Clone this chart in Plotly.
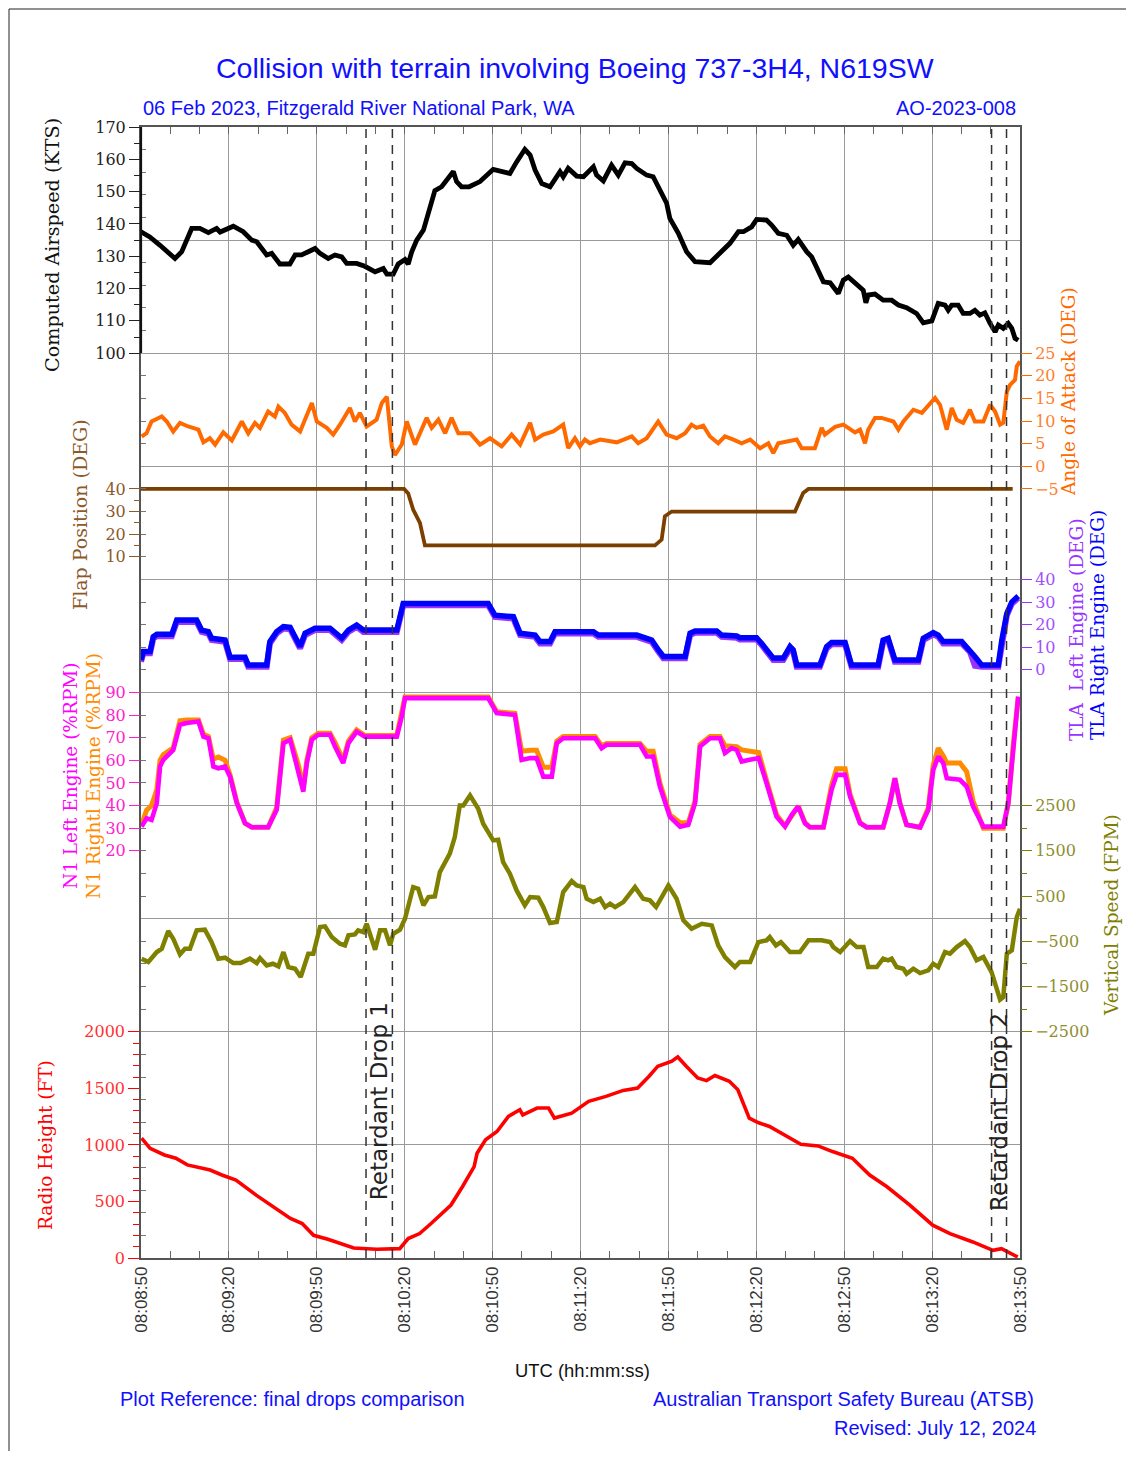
import plotly.graph_objects as go

# ---------------- DATA (seconds after 08:08:50) ----------------
tick_labels = ["08:08:50", "08:09:20", "08:09:50", "08:10:20", "08:10:50", "08:11:20",
               "08:11:50", "08:12:20", "08:12:50", "08:13:20", "08:13:50"]
tick_secs = [0, 30, 60, 90, 120, 150, 180, 210, 240, 270, 300]

t_as = [0, 3, 6.5, 11.6, 13.9, 17.3, 20.1, 23, 25.8, 27, 31.5, 34.9, 37.8, 39.5, 42.9, 44.6, 47.4, 49.7,
        50.8, 52.6, 54.8, 57.1, 59.4, 61.1, 63.9, 66.2, 68.5, 70.2, 73.6, 76.4, 79.9, 82.7, 83.9, 86.1,
        87.8, 90.1, 91.2, 92.4, 94.1, 96.4, 98.6, 100.3, 102.6, 104.3, 106.6, 107.7, 109.4, 112, 115.7,
        120.2, 125.9, 128.2, 131, 132.8, 134.5, 136.8, 139.6, 143, 144.1, 145.8, 148.7, 151, 154.4, 155.5,
        157.8, 160.6, 162.9, 165.2, 167.5, 169.2, 172.6, 174.8, 177.1, 179.4, 180.5, 183.4, 186.2, 189.1,
        194.2, 197.6, 201, 203.9, 205.6, 208.4, 210.1, 213.5, 215.3, 217.5, 220.4, 222.6, 224.3, 227.2,
        228.9, 232.9, 235.2, 238, 239.7, 241.4, 244.3, 246.5, 247.4, 248.2, 250.5, 253.3, 256.2, 258.5,
        261.3, 264.7, 267, 269.9, 272.1, 274.4, 275.5, 276.7, 278.9, 280.6, 282.9, 284.6, 286.3, 288,
        289.8, 291.5, 292.6, 294.3, 296, 297.2, 298.3, 299.4]
v_as = [137.6, 136.0, 133.4, 129.3, 131.4, 138.6, 138.6, 137.3, 138.6, 137.5, 139.3, 137.6, 135.0, 134.5,
        130.4, 130.9, 127.6, 127.7, 127.6, 130.4, 130.4, 131.4, 132.4, 130.9, 129.3, 130.4, 129.8, 127.8,
        127.8, 126.9, 125.2, 126.2, 124.5, 124.5, 127.6, 129.0, 127.6, 131.4, 135.0, 138.1, 144.8, 150.3,
        151.5, 153.6, 156.2, 153.1, 151.5, 151.5, 153.1, 156.9, 155.6, 159.2, 163.1, 161.3, 156.7, 152.5,
        151.5, 156.2, 154.6, 157.2, 154.8, 154.6, 157.7, 155.1, 153.3, 158.2, 155.1, 158.9, 158.7, 157.2,
        155.1, 154.6, 150.5, 146.4, 141.7, 137.1, 131.4, 128.3, 128.0, 130.9, 134.0, 137.6, 137.6, 139.1,
        141.4, 141.2, 139.6, 137.1, 136.5, 133.4, 135.2, 131.4, 129.8, 122.1, 121.8, 118.5, 122.6, 123.6,
        121.1, 119.5, 115.6, 118.0, 118.3, 116.4, 116.4, 114.9, 114.1, 112.3, 109.4, 110.0, 115.4, 114.9,
        113.3, 114.9, 114.9, 112.3, 112.3, 113.3, 111.8, 112.5, 109.2, 106.6, 108.7, 107.7, 109.2, 107.7,
        104.6, 104.0]

t_aoa = [0.2, 1.9, 3.6, 7.1, 8.8, 11, 13.3, 16.1, 19.6, 21.3, 23.5, 25.3, 28.1, 31, 34.4, 36.6, 38.9, 40.6,
         43.4, 45.7, 46.9, 49.1, 51.4, 54.3, 58.3, 60, 63.4, 65.6, 67.9, 71.3, 73, 74.7, 77, 80.4, 82.2, 83.9,
         85.6, 86.7, 89, 90.7, 93.5, 95.2, 97.5, 99.2, 101.5, 103.8, 106, 108.3, 112.3, 115.7, 119.1, 123.1,
         126.5, 129.4, 132.8, 134.5, 137.3, 140.7, 144.1, 145.8, 148.1, 149.8, 151.5, 153.2, 156.7, 162.4,
         167.5, 169.7, 172.6, 176.5, 179.4, 182.8, 185.7, 187.9, 189.6, 191.9, 194.2, 197, 199.3, 202.2, 205,
         207.9, 211.3, 214.1, 215.8, 217.5, 220.4, 223.8, 225.5, 230, 232.3, 233.4, 236.9, 239.7, 243.7,
         245.4, 247.1, 248.2, 250.5, 252.8, 256.8, 258.5, 260.2, 263.6, 266.5, 271, 272.7, 275, 276.7, 278.4,
         280.6, 282.9, 284.6, 287.5, 289.8, 291.5, 293.2, 294.3, 295.5, 296.6, 298.3, 298.9, 300]
v_aoa = [6.6, 7.3, 9.9, 11.0, 9.9, 7.7, 9.6, 8.8, 8.1, 5.3, 6.2, 4.8, 7.5, 5.7, 9.9, 7.3, 9.6, 8.5, 12.1, 11.0,
         13.2, 11.8, 9.2, 7.7, 14.0, 9.9, 8.5, 7.0, 9.2, 12.9, 9.9, 11.8, 8.8, 10.3, 14.0, 15.4, 4.4, 2.5, 4.8,
         9.9, 4.8, 7.3, 10.7, 8.5, 10.3, 7.3, 10.7, 7.3, 7.3, 4.8, 6.2, 4.4, 7.0, 4.8, 9.6, 5.9, 7.0, 7.7, 9.2,
         4.0, 6.2, 4.4, 5.9, 5.1, 5.9, 5.3, 6.6, 5.1, 6.2, 9.9, 7.0, 6.2, 7.3, 9.2, 8.5, 9.0, 6.6, 5.1, 6.6,
         5.9, 5.1, 5.9, 4.0, 5.1, 2.9, 5.1, 5.5, 5.9, 4.0, 4.0, 8.5, 7.0, 8.7, 9.2, 7.5, 8.1, 5.1, 8.1, 10.7,
         10.7, 9.9, 8.1, 9.9, 12.5, 11.8, 15.1, 13.6, 8.1, 12.9, 10.3, 9.6, 12.5, 9.9, 9.9, 13.6, 12.1, 9.2,
         9.6, 16.5, 18.0, 19.1, 22.1, 23.2]

t_flap = [0, 89.8, 91.2, 92.9, 95.2, 96.9, 175.4, 177.7, 178.8, 181.1, 223.2, 226.0, 227.8, 297.5]
v_flap = [40, 40, 38, 30.8, 25, 15, 15, 17.6, 27.9, 30, 30, 38.2, 40, 40]

t_tla = [0, 0.8, 3.1, 4.2, 5.4, 10.5, 12.2, 19, 20.7, 23, 24.1, 28.7, 30.4, 35.5, 36.6, 42.9, 44, 46.3,
         48.6, 50.9, 54.3, 56, 59.4, 64.5, 68.5, 70.8, 73.6, 75.9, 87.3, 89, 89.5, 118.5, 120.8, 127.1,
         129.4, 134.5, 136.2, 139.6, 141.3, 154.4, 156.1, 169.2, 170.9, 174.3, 176.6, 178.3, 185.7, 187.4,
         189.1, 196.5, 198.2, 203.3, 204.4, 210.1, 211.8, 215.8, 219.2, 221.5, 222.6, 223.8, 231.7, 234,
         235.7, 240.3, 242.5, 251.6, 253.3, 255, 257.3, 265.3, 267, 270.4, 272.1, 273.8, 280.1, 282.9,
         284.6, 286.9, 292.6, 293.8, 295.5, 297.2, 299.4]
v_tla_right = [4.4, 8.1, 8.1, 14.7, 15.7, 15.7, 22.0, 22.0, 17.6, 16.9, 14.0, 13.2, 5.6, 5.6, 2.2, 2.2, 12.5,
               16.9, 19.1, 18.8, 10.3, 16.2, 18.4, 18.4, 14.0, 17.6, 19.8, 17.6, 17.6, 27.9, 29.4, 29.4,
               24.2, 23.5, 16.2, 15.4, 12.5, 12.5, 16.9, 16.9, 15.4, 15.4, 14.7, 13.2, 8.8, 5.9, 5.9, 16.2,
               17.2, 17.2, 15.4, 15.0, 14.2, 14.2, 11.8, 5.2, 5.2, 10.3, 8.8, 2.2, 2.2, 10.3, 12.1, 12.1,
               2.2, 2.2, 13.2, 14.0, 4.4, 4.4, 14.0, 16.5, 15.4, 12.5, 12.5, 8.8, 5.9, 2.2, 2.2, 13.2, 24.9,
               30.0, 32.6]
v_tla_left = [3.6, 7.3, 7.3, 13.9, 14.9, 14.9, 21.2, 21.2, 16.8, 16.1, 13.2, 12.4, 4.8, 4.8, 1.4, 1.4, 11.7,
              16.1, 18.3, 18.0, 9.5, 15.4, 17.6, 17.6, 13.2, 16.8, 19.0, 16.8, 16.8, 27.1, 28.6, 28.6,
              23.4, 22.7, 15.4, 14.6, 11.7, 11.7, 16.1, 16.1, 14.6, 14.6, 13.9, 12.4, 8.0, 5.1, 5.1, 15.4,
              16.4, 16.4, 14.6, 14.2, 13.4, 13.4, 11.0, 4.4, 4.4, 9.5, 8.0, 1.4, 1.4, 9.5, 11.3, 11.3,
              1.4, 1.4, 12.4, 13.2, 3.6, 3.6, 13.2, 15.7, 14.6, 11.7, 11.7, 8.0, 1.8, 1.4, 1.4, 12.4, 24.1,
              29.2, 31.8]

t_n1 = [0.2, 1.9, 3.6, 5.4, 6.5, 7.6, 11, 13.3, 15.6, 19.6, 21.3, 23, 24.7, 26.4, 28.7, 30.4, 32.7, 35.5,
        37.8, 43.4, 46.3, 48.6, 50.9, 53.7, 55.4, 56.6, 58.3, 60.5, 64.5, 66.2, 69, 70.8, 73.6, 76.4, 87.3,
        89, 90.1, 118.5, 121.4, 127.6, 129.9, 132.8, 135, 137.3, 140.2, 141.9, 144.1, 155, 157.2, 158.9,
        170.3, 172.6, 174.8, 177.1, 180.5, 184, 186.8, 189.1, 190.8, 194.2, 197.6, 199.3, 201.6, 203.3,
        205, 207.3, 210.8, 213.5, 216.9, 219.8, 222.1, 224.3, 226.6, 228.3, 232.9, 235.7, 237.4, 240.3,
        242, 245.4, 247.7, 253.3, 255.6, 257.3, 259, 261.3, 265.9, 268.7, 270.4, 272.1, 273.8, 275, 279.5,
        281.8, 284, 287.5, 294.3, 296, 297.7, 299.4]
v_n1_left = [30.7, 34.4, 33.7, 41.1, 57.3, 60.2, 64.6, 75.7, 76.5, 77.2, 70.5, 69.8, 57.3, 56.5, 57.3, 52.8,
             41.1, 32.2, 30.4, 30.4, 38.1, 67.6, 69.1, 55.8, 46.2, 58.8, 69.1, 71.3, 71.3, 66.1, 58.8, 67.6,
             72.7, 70.5, 70.5, 79.4, 87.5, 87.5, 80.9, 80.1, 60.2, 61.0, 61.0, 52.8, 52.8, 67.6, 69.8, 69.8,
             65.4, 66.9, 66.9, 61.7, 61.7, 48.4, 35.1, 30.7, 31.5, 41.1, 66.1, 69.8, 69.8, 63.2, 65.4, 64.6,
             59.5, 60.2, 61.0, 49.9, 35.1, 30.7, 35.9, 39.6, 32.2, 30.4, 30.4, 47.0, 53.6, 53.6, 44.0, 32.2,
             30.4, 30.4, 41.1, 52.1, 41.1, 31.5, 30.4, 38.1, 55.8, 61.7, 58.8, 52.1, 51.4, 48.4, 39.6, 30.7,
             30.7, 41.1, 67.6, 88.2]
v_n1_right = [31.5, 38.0, 40.0, 47.0, 60.0, 62.5, 65.5, 77.5, 77.8, 77.8, 71.5, 70.5, 60.5, 61.5, 60.0, 53.5,
              41.5, 32.2, 30.4, 30.4, 39.0, 69.0, 70.0, 58.0, 48.0, 60.0, 70.0, 72.0, 72.0, 68.0, 60.0, 68.5,
              73.5, 71.0, 71.0, 80.0, 88.0, 88.0, 81.5, 80.8, 64.0, 64.5, 64.5, 57.0, 57.0, 68.5, 70.5, 70.5,
              66.5, 67.5, 67.5, 64.0, 64.0, 50.0, 36.0, 32.4, 32.4, 42.0, 67.0, 70.5, 70.5, 66.5, 66.5, 66.0,
              64.6, 64.0, 63.5, 51.0, 36.0, 31.0, 36.0, 39.8, 32.5, 30.4, 30.4, 49.0, 56.3, 56.3, 45.0, 32.5,
              30.4, 30.4, 41.1, 52.1, 41.1, 31.5, 30.4, 39.0, 58.0, 65.4, 62.0, 58.8, 58.8, 55.0, 42.0, 30.0,
              30.0, 41.0, 67.0, 88.0]

t_vs = [0.2, 2.5, 5.4, 7.1, 9.3, 11, 13.3, 15, 16.7, 19, 21.8, 24.1, 26.4, 28.7, 31.5, 34, 37.2, 39.5, 40.6,
        42.9, 45, 46.9, 48.6, 50.3, 52.6, 54.5, 57.1, 58.8, 61.1, 62.8, 65.1, 67.9, 69.6, 70.8, 73, 74.1,
        75.9, 77, 79.9, 81.6, 83.3, 85, 86.1, 88.4, 90.1, 92.9, 94.6, 96.4, 98.1, 100.3, 102, 105.4, 107.1,
        108.8, 110, 112.3, 115.1, 116.8, 120.2, 121.9, 123.6, 125.9, 128.2, 131, 132.8, 135.6, 137.3, 139.6,
        141.9, 144.1, 147, 148.7, 151, 152.1, 154.4, 156.7, 158.4, 160.1, 161.8, 164.6, 168.6, 171.4, 173.7,
        175.8, 180, 182.8, 185.1, 187.9, 191.4, 194.8, 197, 199.3, 202.7, 204.4, 207.9, 210.7, 213.5, 214.6,
        216.7, 218.4, 221.5, 224.9, 227.8, 232.3, 235.2, 236.3, 238.6, 242, 244.3, 246.6, 248.2, 251.1,
        253.3, 255, 256.2, 257.9, 260.2, 261.3, 263.6, 265.9, 268.7, 270.4, 272.1, 274.4, 276.1, 278.4,
        281.2, 282.9, 285.2, 287.5, 290.3, 292, 293.2, 294.3, 295.5, 297.2, 298.9, 300]
v_vs = [-885, -958, -737, -663, -274, -442, -789, -663, -663, -258, -243, -517, -884, -862, -981, -981, -884,
        -981, -870, -1032, -995, -1054, -738, -1069, -1105, -1290, -774, -774, -185, -170, -406, -553, -590,
        -369, -347, -258, -296, -111, -685, -258, -258, -590, -332, -243, 0, 699, 663, 294, 478, 493, 1030,
        1437, 1804, 2504, 2504, 2725, 2431, 2100, 1730, 1746, 1251, 994, 625, 294, 478, 464, 257, -96, -74,
        589, 832, 737, 699, 442, 368, 442, 257, 331, 257, 368, 699, 442, 405, 257, 737, 442, -37, -221, -111,
        -148, -590, -848, -1069, -958, -958, -517, -479, -406, -590, -517, -737, -737, -479, -479, -517,
        -627, -737, -495, -627, -627, -1069, -1069, -884, -920, -884, -1069, -1105, -1216, -1105, -1202,
        -1143, -995, -1069, -737, -774, -627, -495, -627, -921, -848, -1180, -1511, -1790, -1733, -774,
        -700, 37, 221]

t_rh = [0.2, 3.1, 8, 11.9, 15.8, 23.6, 27.6, 32.4, 39.3, 45.2, 51, 55, 58.9, 63.8, 68.7, 72.6, 80.4, 88.3,
        91.2, 95.1, 99, 102.9, 105.8, 109.7, 113.7, 114.7, 117.6, 121.5, 125.4, 129.3, 130.3, 135.2, 139.1,
        141.1, 147, 152.8, 158.7, 164.6, 169.5, 173.4, 176.4, 181.2, 183.2, 186.1, 190, 193, 195.9, 200.8,
        203.7, 207.6, 210.6, 214.5, 219.4, 225.2, 231.1, 236, 242.8, 248.7, 254.6, 262.4, 270.2, 276.1,
        283.9, 290.8, 293.7, 299.2]
v_rh = [1059, 970, 911, 882, 823, 778, 734, 689, 556, 453, 349, 305, 201, 166, 127, 89, 77, 83, 172, 216, 305,
        394, 468, 630, 808, 926, 1045, 1118, 1252, 1311, 1266, 1326, 1326, 1237, 1281, 1385, 1429, 1482, 1503,
        1607, 1696, 1740, 1778, 1696, 1592, 1568, 1613, 1562, 1488, 1237, 1198, 1163, 1089, 1006, 991, 941,
        882, 734, 630, 468, 290, 216, 142, 68, 83, 9]

drop_lines = [76.8, 85.8, 290.3, 295.4]
drop_labels = ["Retardant Drop 1", "Retardant Drop 2"]

# ---------------- FIGURE ----------------
# the page body adds an 8 px margin, so the figure is 16 px smaller and shifted
OFF = 8
W, H = 1134 - 2 * OFF, 1459 - 2 * OFF
L, R, T, B = 141, 1020, 127, 1258   # plot area in page pixels


def px(x):
    return (x - L) / (R - L)


def py(y):
    return (B - y) / (B - T)


SERIF = "DejaVu Serif"
SANS = "Liberation Sans"

C_AS = "#000000"
C_AOA = "#FF6A00"
C_FLAP = "#7B3F00"
C_TLAL = "#9933FF"
C_TLAR = "#0000FF"
C_N1L = "#FF00FF"
C_N1R = "#FF8C00"
C_VS = "#808000"
C_RH = "#FF0000"

fig = go.Figure()


def line(t, v, yax, color, width):
    fig.add_trace(go.Scatter(x=t, y=v, yaxis=yax, mode="lines",
                             line=dict(color=color, width=width, shape="linear"),
                             hoverinfo="skip", showlegend=False))


fig.add_trace(go.Scatter(x=[None], y=[None], yaxis="y9", showlegend=False, hoverinfo="skip"))
line(t_rh, v_rh, "y", C_RH, 3.6)
line(t_as, v_as, "y2", C_AS, 4.8)
line(t_aoa, v_aoa, "y3", C_AOA, 4)
line(t_flap, v_flap, "y4", C_FLAP, 3.8)
line(t_tla, v_tla_left, "y5", C_TLAL, 6)
line(t_tla, v_tla_right, "y5", C_TLAR, 5.5)
line(t_n1, v_n1_right, "y6", C_N1R, 5)
line(t_n1, v_n1_left, "y6", C_N1L, 4.6)
line(t_vs, v_vs, "y7", C_VS, 4.5)


def yax(rng, tickvals, color, side, minor_vals=None, fcolor=None):
    d = dict(range=rng, tickmode="array", tickvals=tickvals, showgrid=False, zeroline=False,
             ticks="outside", ticklen=11, tickwidth=1.3, tickcolor=color,
             tickfont=dict(family=SERIF, size=16, color=fcolor or color), side=side, anchor="x",
             showline=False, fixedrange=True)
    if minor_vals:
        d["minor"] = dict(tickmode="array", tickvals=minor_vals, ticks="outside", ticklen=6,
                          tickwidth=1.2, tickcolor=color, showgrid=False)
    return d


layout_axes = {}
layout_axes["yaxis"] = yax([0, 10000], [0, 500, 1000, 1500, 2000], C_RH, "left",
                           [v for v in range(100, 2000, 100) if v % 500], fcolor="#FF3030")
layout_axes["yaxis"].update(showline=True, linecolor="#555555", linewidth=1.5, mirror=True)
layout_axes["yaxis2"] = yax([-180, 170], list(range(100, 171, 10)), "#222222", "left",
                            list(range(105, 170, 10)))
layout_axes["yaxis3"] = yax([-175, 75], list(range(-5, 26, 5)), C_AOA, "right", fcolor="#FF8030")
layout_axes["yaxis4"] = yax([-300, 200], [10, 20, 30, 40], "#8B5A2B", "left", [15, 25, 35])
layout_axes["yaxis5"] = yax([-260, 240], [0, 10, 20, 30, 40], C_TLAL, "right", fcolor="#A050FF")
layout_axes["yaxis6"] = yax([-160, 340], list(range(20, 91, 10)), "#FF22CC", "left")
layout_axes["yaxis7"] = yax([-7500, 17500], [-2500, -1500, -500, 500, 1500, 2500], C_VS, "right",
                            [-2000, -1000, 0, 1000, 2000], fcolor="#8E8E30")
for k in ["yaxis2", "yaxis3", "yaxis4", "yaxis5", "yaxis6", "yaxis7"]:
    layout_axes[k]["overlaying"] = "y"
layout_axes["yaxis9"] = dict(range=[0, 10], overlaying="y", anchor="x", side="left", dtick=1, tick0=0,
                             showgrid=True, gridcolor="#9a9a9a", gridwidth=1.2, showticklabels=False,
                             ticks="", zeroline=False, showline=False, mirror="allticks",
                             minor=dict(dtick=0.2, tick0=0, ticks="inside", ticklen=5, tickcolor="#777777",
                                        showgrid=False))

fig.update_layout(
    width=W, height=H,
    margin=dict(l=L - OFF, r=W - (R - OFF), t=T - OFF, b=H - (B - OFF), pad=0),
    paper_bgcolor="white", plot_bgcolor="white",
    showlegend=False, hovermode=False,
    xaxis=dict(range=[0, 300], tickmode="array", tickvals=tick_secs, ticktext=tick_labels,
               tickangle=-90, showgrid=True, gridcolor="#9a9a9a", gridwidth=1.2, zeroline=False,
               ticks="inside", ticklen=6, tickcolor="#666666", showline=True, linecolor="#555555",
               linewidth=1.5, mirror="allticks", fixedrange=True,
               tickfont=dict(family=SANS, size=17, color="#333333"),
               minor=dict(dtick=10, tick0=0, ticks="inside", ticklen=7, tickcolor="#666666",
                          showgrid=False)),
    **layout_axes,
)

# dark left spine for the airspeed panel
fig.add_shape(type="line", xref="paper", yref="paper", x0=0, x1=0, y0=py(353), y1=1,
              line=dict(color="#111111", width=2.2), layer="above")

# dashed drop lines
for x in drop_lines:
    fig.add_shape(type="line", xref="x", yref="paper", x0=x, x1=x, y0=0, y1=1,
                  line=dict(color="#333333", width=1.5, dash="9px,7px"), layer="above")

# drop labels
fig.add_annotation(x=(drop_lines[0] + drop_lines[1]) / 2, y=py(1101), xref="x", yref="paper",
                   text=drop_labels[0], textangle=-90, showarrow=False, xanchor="center",
                   yanchor="middle", font=dict(family="DejaVu Sans", size=23, color="#222222"))
fig.add_annotation(x=(drop_lines[2] + drop_lines[3]) / 2, y=py(1112), xref="x", yref="paper",
                   text=drop_labels[1], textangle=-90, showarrow=False, xanchor="center",
                   yanchor="middle", font=dict(family="DejaVu Sans", size=23, color="#222222"))


def ann(text, x, y, color, size=18.5, family=SERIF, angle=0, xanchor="center"):
    fig.add_annotation(text=text, x=px(x), y=py(y), xref="paper", yref="paper", showarrow=False,
                       textangle=angle, xanchor=xanchor, yanchor="middle",
                       font=dict(family=family, size=size, color=color))


# axis titles
ann("Computed Airspeed (KTS)", 52, 245, "#111111", angle=-90, size=19.2)
ann("Flap Position (DEG)", 80, 515, "#8B5A2B", angle=-90, size=19)
ann("N1 Left Engine (%RPM)", 70, 776, C_N1L, angle=-90)
ann("N1 Rightl Engine (%RPM)", 93, 776, C_N1R, angle=-90)
ann("Radio Height (FT)", 45, 1145, C_RH, angle=-90)
ann("Angle of Attack (DEG)", 1068, 392, C_AOA, angle=-90)
ann("TLA  Left Engine (DEG)", 1076, 630, C_TLAL, angle=-90)
ann("TLA Right Engine (DEG)", 1097, 625, C_TLAR, angle=-90)
ann("Vertical Speed (FPM)", 1111, 915, C_VS, angle=-90)

# header / footer texts
BLUE = "#1010FF"
ann("Collision with terrain involving Boeing 737-3H4, N619SW", 575, 68, BLUE, size=28.5, family=SANS)
ann("06 Feb 2023, Fitzgerald River National Park, WA", 141, 108, BLUE, size=20, family=SANS,
    xanchor="left")
ann("AO-2023-008", 1018, 108, BLUE, size=20, family=SANS, xanchor="right")
ann("UTC (hh:mm:ss)", 582, 1370, "#111111", size=18.4, family=SANS)
ann("Plot Reference: final drops comparison", 118, 1399, BLUE, size=20, family=SANS, xanchor="left")
ann("Australian Transport Safety Bureau (ATSB)", 1036, 1399, BLUE, size=20, family=SANS,
    xanchor="right")
ann("Revised: July 12, 2024", 1038, 1428, BLUE, size=20, family=SANS, xanchor="right")

# outer frame (top and left edges, as in the reference)
fig.add_shape(type="line", xref="paper", yref="paper", x0=px(9), x1=px(1126), y0=py(9), y1=py(9),
              line=dict(color="#222222", width=1), layer="above")
fig.add_shape(type="line", xref="paper", yref="paper", x0=px(9), x1=px(9), y0=py(9), y1=py(1451),
              line=dict(color="#222222", width=1), layer="above")

fig.write_html("out.html")
